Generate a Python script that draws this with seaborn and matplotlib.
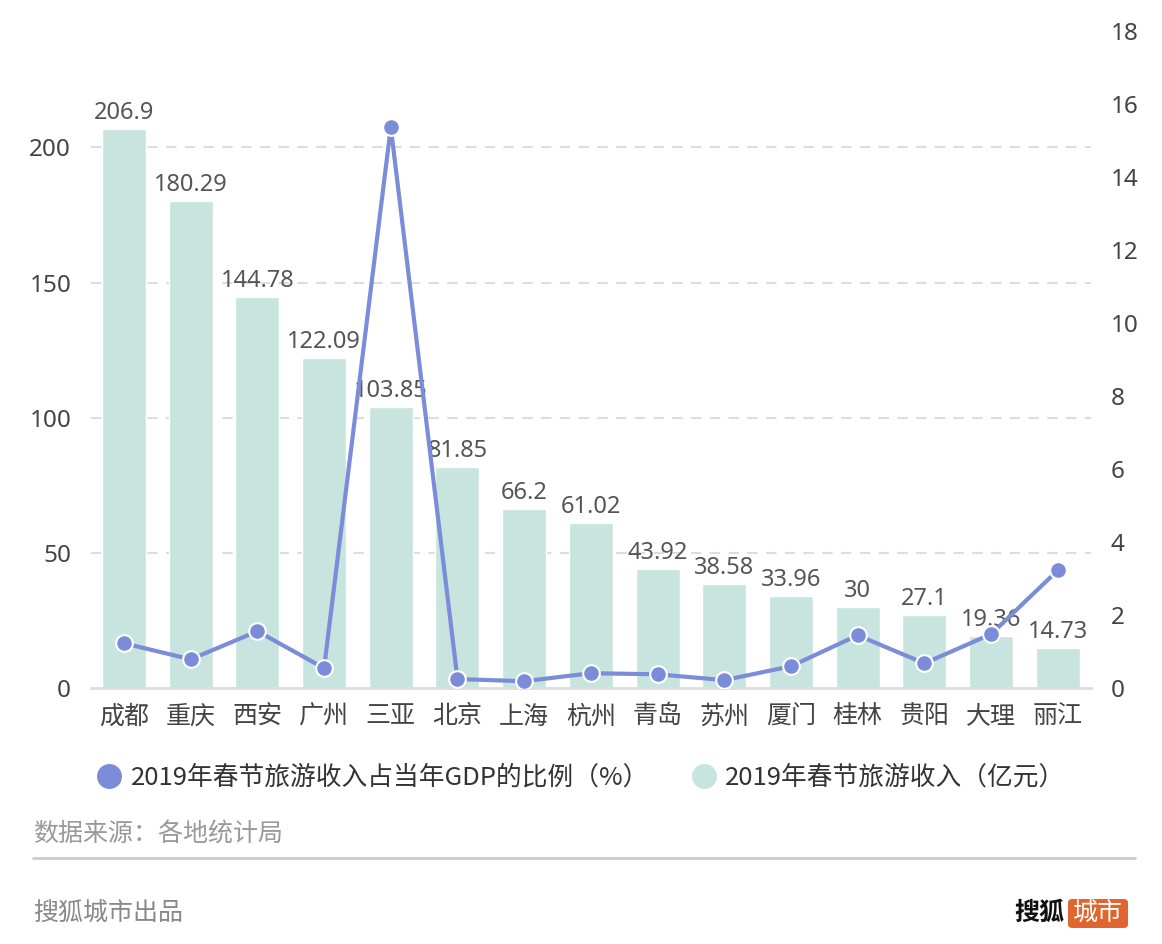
import matplotlib
matplotlib.use("Agg")
import matplotlib.pyplot as plt
from matplotlib.patches import FancyBboxPatch
from matplotlib.lines import Line2D
import seaborn as sns
import pandas as pd

cities = ["成都", "重庆", "西安", "广州", "三亚", "北京", "上海", "杭州", "青岛", "苏州", "厦门", "桂林", "贵阳", "大理", "丽江"]
income = [206.9, 180.29, 144.78, 122.09, 103.85, 81.85, 66.2, 61.02, 43.92, 38.58, 33.96, 30, 27.1, 19.36, 14.73]
income_labels = ["206.9", "180.29", "144.78", "122.09", "103.85", "81.85", "66.2", "61.02", "43.92", "38.58", "33.96", "30", "27.1", "19.36", "14.73"]
gdp_ratio = [1.23, 0.79, 1.56, 0.55, 15.37, 0.25, 0.19, 0.41, 0.38, 0.22, 0.60, 1.45, 0.68, 1.48, 3.23]
left_ticks = [0, 50, 100, 150, 200]
right_ticks = [0, 2, 4, 6, 8, 10, 12, 14, 16, 18]
legend_line = "2019年春节旅游收入占当年GDP的比例（%）"
legend_bar = "2019年春节旅游收入（亿元）"

sns.set_theme(style="white")
plt.rcParams["font.family"] = ["Noto Sans CJK SC", "DejaVu Sans"]
NUMFONT = ["Noto Sans", "Noto Sans CJK SC"]

BAR = "#c8e4de"
LINE = "#7b8cd8"
TXT = "#444444"

df = pd.DataFrame({"city": cities, "income": income, "ratio": gdp_ratio})

fig = plt.figure(figsize=(11.62, 9.44), dpi=100)
ax = fig.add_axes([0.078, 0.271, 0.861, 0.696])
sns.barplot(data=df, x="city", y="income", color=BAR, width=0.66, ax=ax, saturation=1)
ax.set_xlim(-0.5, len(cities) - 0.5)
ax.set_ylim(0, 243)
ax.set_yticks(left_ticks)
ax.set_xlabel("")
ax.set_ylabel("")
for y in left_ticks[1:]:
    ax.axhline(y, color="#dddddd", lw=1.5, ls=(0, (5, 4)), zorder=0)
for s in ["top", "right", "left"]:
    ax.spines[s].set_visible(False)
ax.spines["bottom"].set_color("#dddddd")
ax.spines["bottom"].set_linewidth(2)
ax.tick_params(axis="x", length=6, color="#dddddd", width=1.5, labelsize=18, labelcolor=TXT, pad=5)
ax.tick_params(axis="y", length=0, labelsize=17.5, labelcolor=TXT, pad=14)
for lab in ax.get_yticklabels():
    lab.set_family(NUMFONT)
for i, (v, lab) in enumerate(zip(income, income_labels)):
    ax.text(i, v + 1.5, lab, ha="center", va="bottom", fontsize=17, color="#555555", family=NUMFONT)

ax2 = ax.twinx()
sns.lineplot(data=df, x="city", y="ratio", ax=ax2, color=LINE, lw=3, marker="o",
             markersize=12, markeredgecolor="white", markeredgewidth=1.5, sort=False)
ax2.set_ylim(0, 18)
ax2.set_yticks(right_ticks)
ax2.set_xlabel("")
ax2.set_ylabel("")
for s in ["top", "right", "left", "bottom"]:
    ax2.spines[s].set_visible(False)
ax2.tick_params(axis="y", length=0, labelsize=17.5, labelcolor=TXT, pad=14)
for lab in ax2.get_yticklabels():
    lab.set_family(NUMFONT)
ax2.set_xlim(-0.5, len(cities) - 0.5)

handles = [
    Line2D([], [], ls="", marker="o", markersize=18, color=LINE, markeredgewidth=0),
    Line2D([], [], ls="", marker="o", markersize=18, color=BAR, markeredgewidth=0),
]
fig.legend(handles, [legend_line, legend_bar], loc="center", bbox_to_anchor=(0.499, 0.176),
           ncol=2, frameon=False, fontsize=18.5, labelcolor="#333333", handletextpad=0.25,
           columnspacing=1.5, handlelength=1.2)

fig.text(33 / 1162, 1 - 835 / 944, "数据来源：各地统计局", fontsize=18, color="#999999", va="center", ha="left")
fig.add_artist(Line2D([33 / 1162, 1135 / 1162], [1 - 858 / 944] * 2, color="#cccccc", lw=2))
fig.text(33 / 1162, 1 - 913 / 944, "搜狐城市出品", fontsize=18, color="#888888", va="center", ha="left")
fig.text(1064 / 1162, 1 - 913 / 944, "搜狐", fontsize=18, color="#111111", va="center", ha="right", fontweight="bold")
box = FancyBboxPatch((1068 / 1162, 1 - 928 / 944), 60 / 1162, 29 / 944,
                     boxstyle="round,pad=0,rounding_size=0.004", transform=fig.transFigure,
                     facecolor="#e0652f", edgecolor="none")
fig.add_artist(box)
fig.text(1098 / 1162, 1 - 913 / 944, "城市", fontsize=18, color="white", va="center", ha="center")

fig.savefig("out.png", dpi=100, facecolor="white")
